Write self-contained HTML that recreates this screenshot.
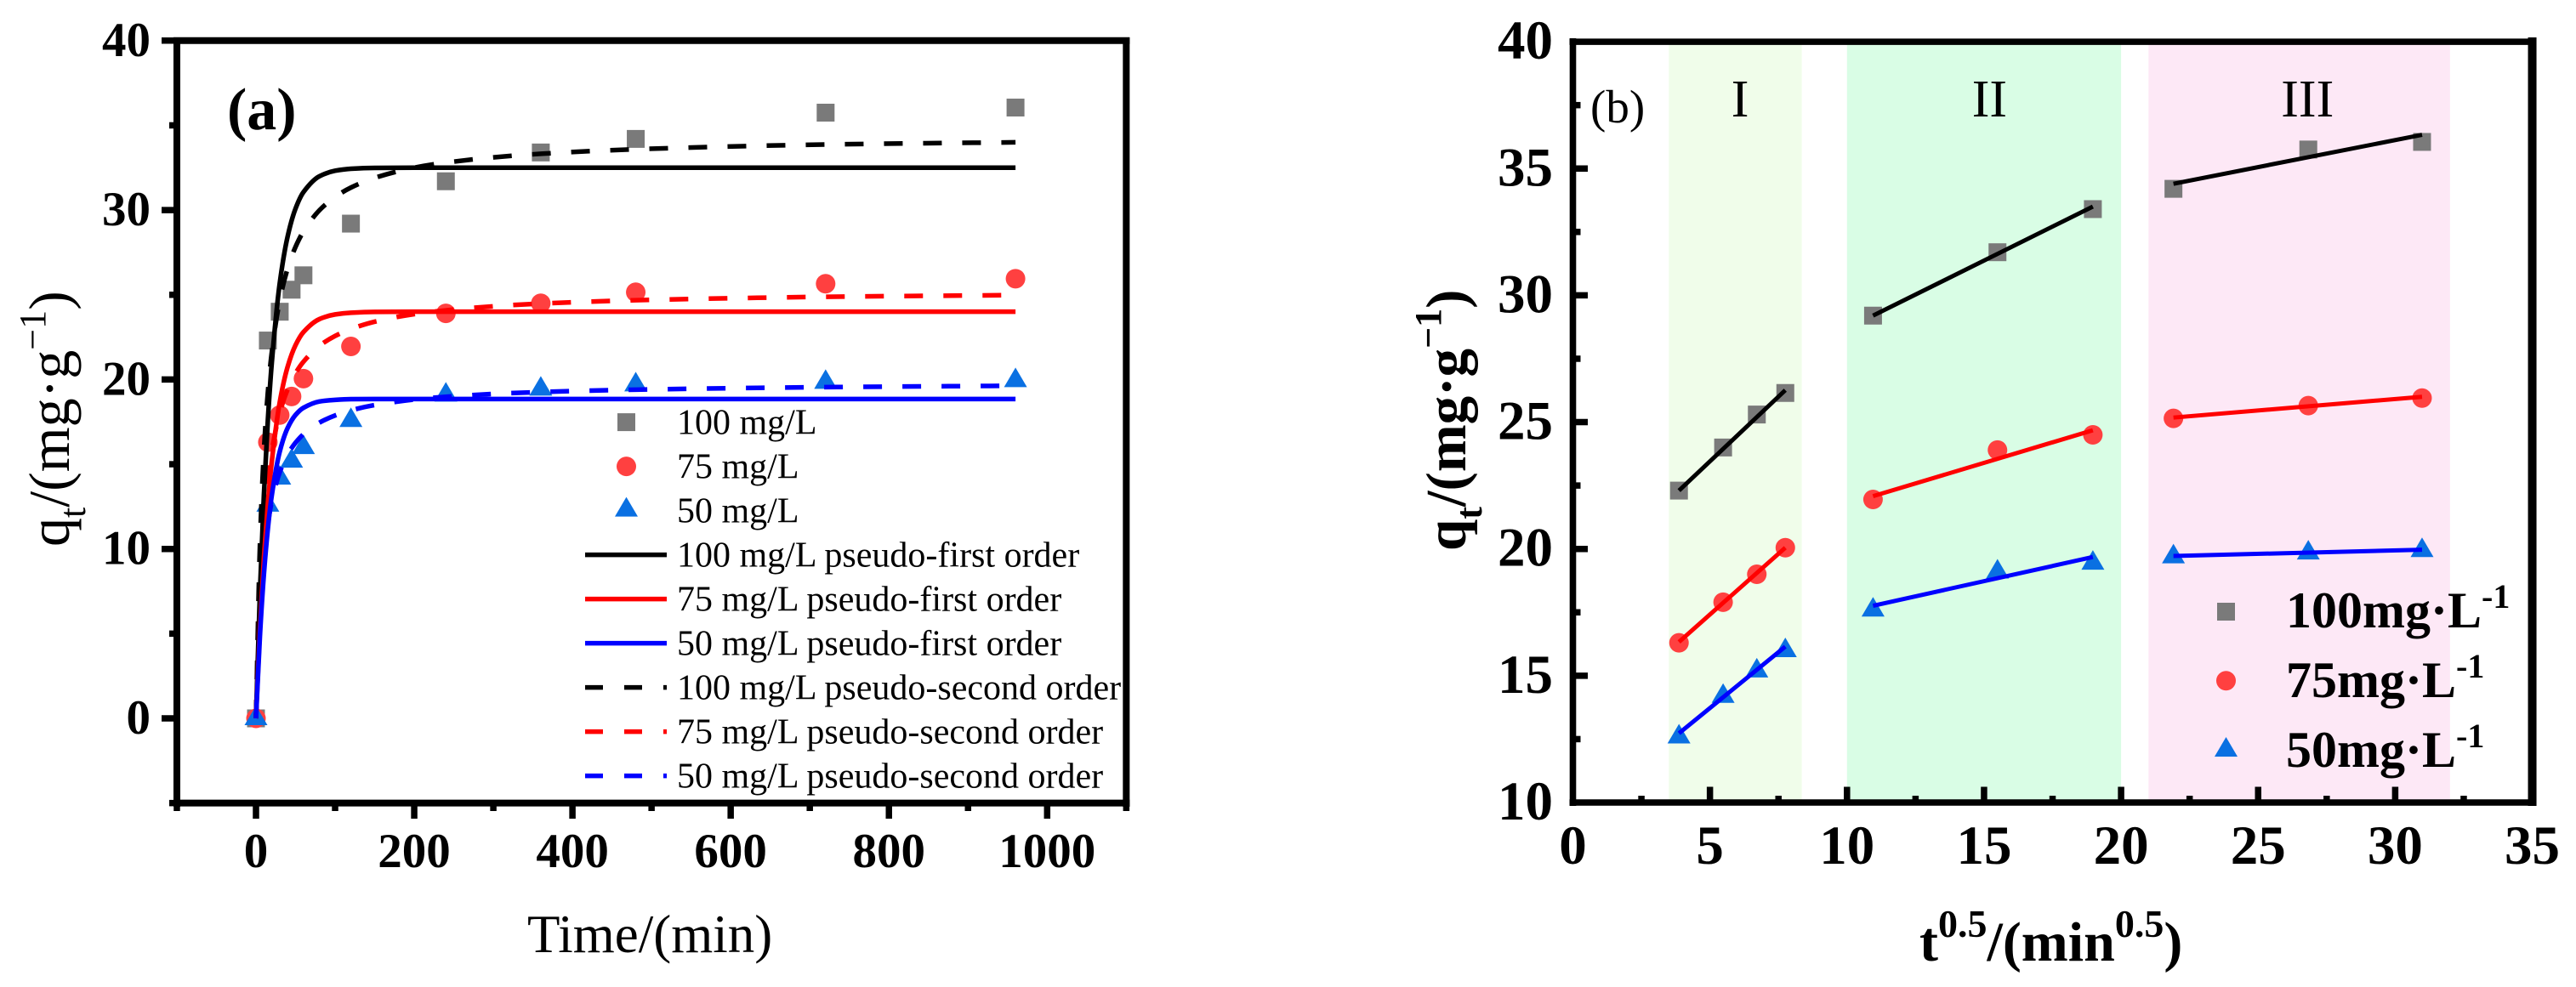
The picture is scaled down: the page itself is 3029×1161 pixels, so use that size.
<!DOCTYPE html>
<html lang="en">
<head>
<meta charset="utf-8">
<title>Adsorption kinetics charts</title>
<style>
html,body{margin:0;padding:0;background:#fff;}
svg{display:block;font-family:"Liberation Serif",serif;}
.bold{font-weight:bold;}
</style>
</head>
<body>
<svg id="chart" xmlns="http://www.w3.org/2000/svg" width="3029" height="1161" viewBox="0 0 3029 1161">
  <rect x="0" y="0" width="3029" height="1161" fill="#ffffff"/>
  <g id="panelA">
    <g id="marksA"></g>
    <g id="axesA"></g>
    <text x="267" y="152" font-size="70" class="bold">(a)</text>
    <text transform="translate(81,643) rotate(-90)" font-size="68">q<tspan font-size="44" dy="19">t</tspan><tspan dy="-19">/(mg·g</tspan><tspan font-size="44" dy="-28">−1</tspan><tspan dy="28">)</tspan></text>
    <text x="620" y="1120" font-size="63">Time/(min)</text>
    <g id="legendA" font-size="42"></g>
  </g>
  <g id="panelB">
    <g id="bandsB"></g>
    <g id="marksB"></g>
    <g id="axesB"></g>
    <text x="1870" y="144" font-size="55">(b)</text>
    <text transform="translate(1723,648) rotate(-90)" font-size="67" class="bold">q<tspan font-size="44" dy="19">t</tspan><tspan dy="-19">/(mg·g</tspan><tspan font-size="44" dy="-29">−1</tspan><tspan dy="29">)</tspan></text>
    <text x="2257" y="1130" font-size="66" class="bold">t<tspan font-size="46" dy="-28">0.5</tspan><tspan dy="28">/(min</tspan><tspan font-size="46" dy="-28">0.5</tspan><tspan dy="28">)</tspan></text>
    <g id="legendB" font-size="60" class="bold">
      <text x="2688" y="738">100mg·L<tspan font-size="40" dy="-23">-1</tspan></text>
      <text x="2688" y="820">75mg·L<tspan font-size="40" dy="-23">-1</tspan></text>
      <text x="2688" y="902">50mg·L<tspan font-size="40" dy="-23">-1</tspan></text>
    </g>
  </g>
</svg>
<script>
/* ---------- Panel (a) data ---------- */
const timeA = [0, 15, 30, 45, 60, 120, 240, 360, 480, 720, 960];
const q100A = [0, 22.3, 24.0, 25.3, 26.15, 29.2, 31.7, 33.4, 34.2, 35.75, 36.05];
const q75A  = [0, 16.3, 17.9, 19.0, 20.05, 21.95, 23.9, 24.5, 25.15, 25.65, 25.95];
const q50A  = [0, 12.6, 14.2, 15.2, 16.0, 17.6, 19.1, 19.45, 19.7, 19.85, 19.95];

const fitTime = [0, 5, 10, 15, 20, 30, 40, 50, 60, 80, 100, 120, 150, 200, 240, 300, 360, 480, 720, 960];
const first100 = [0, 7.44, 13.18, 17.6, 21.0, 25.67, 28.44, 30.09, 31.06, 31.99, 32.32, 32.44, 32.49, 32.5, 32.5, 32.5, 32.5, 32.5, 32.5, 32.5];
const first75  = [0, 5.31, 9.44, 12.66, 15.17, 18.65, 20.75, 22.03, 22.8, 23.56, 23.84, 23.94, 23.99, 24.0, 24.0, 24.0, 24.0, 24.0, 24.0, 24.0];
const first50  = [0, 4.88, 8.5, 11.18, 13.17, 15.74, 17.14, 17.91, 18.33, 18.7, 18.8, 18.84, 18.85, 18.85, 18.85, 18.85, 18.85, 18.85, 18.85, 18.85];
const second100 = [0, 10.21, 15.75, 19.23, 21.61, 24.67, 26.55, 27.83, 28.74, 29.98, 30.77, 31.33, 31.9, 32.5, 32.8, 33.11, 33.32, 33.59, 33.87, 34.0];
const second75  = [0, 7.4, 11.45, 14.0, 15.76, 18.03, 19.42, 20.37, 21.05, 21.98, 22.57, 22.98, 23.41, 23.86, 24.08, 24.32, 24.48, 24.68, 24.88, 24.98];
const second50  = [0, 6.2, 9.45, 11.45, 12.81, 14.52, 15.57, 16.27, 16.77, 17.45, 17.88, 18.18, 18.49, 18.82, 18.98, 19.15, 19.26, 19.4, 19.55, 19.63];

const xMajorA = [0, 200, 400, 600, 800, 1000];
const xMinorA = [-100, 100, 300, 500, 700, 900, 1100];
const yMajorA = [0, 10, 20, 30, 40];
const yMinorA = [-5, 5, 15, 25, 35];
const legendLabelsA = ["100 mg/L", "75 mg/L", "50 mg/L",
  "100 mg/L pseudo-first order", "75 mg/L pseudo-first order", "50 mg/L pseudo-first order",
  "100 mg/L pseudo-second order", "75 mg/L pseudo-second order", "50 mg/L pseudo-second order"];

/* ---------- Panel (b) data ---------- */
const rootTime = [3.87, 5.48, 6.71, 7.75, 10.95, 15.49, 18.97, 21.91, 26.83, 30.98];
const q100B = [22.3, 24.0, 25.3, 26.15, 29.2, 31.7, 33.4, 34.2, 35.75, 36.05];
const q75B  = [16.3, 17.9, 19.0, 20.05, 21.95, 23.9, 24.5, 25.15, 25.65, 25.95];
const q50B  = [12.6, 14.2, 15.2, 16.0, 17.6, 19.1, 19.45, 19.7, 19.85, 19.95];

const stageStart = [3.87, 10.95, 21.91];
const stageEnd   = [7.75, 18.97, 30.98];
const fit100Start = [22.3, 29.2, 34.4];
const fit100End   = [26.26, 33.5, 36.33];
const fit75Start  = [16.33, 22.08, 25.18];
const fit75End    = [20.05, 24.68, 26.0];
const fit50Start  = [12.73, 17.76, 19.72];
const fit50End    = [16.15, 19.68, 19.97];

const bandStart = [3.5, 10, 21];
const bandEnd   = [8.35, 20, 32];
const bandLabels = ["I", "II", "III"];
const bandCenters = [6.1, 15.2, 26.8];

const xMajorB = [0, 5, 10, 15, 20, 25, 30, 35];
const xMinorB = [2.5, 7.5, 12.5, 17.5, 22.5, 27.5, 32.5];
const yMajorB = [10, 15, 20, 25, 30, 35, 40];
const yMinorB = [12.5, 17.5, 22.5, 27.5, 32.5, 37.5];

/* ---------- Axis functions ---------- */
function xA(v){ return 301 + 0.9303 * v; }
function yA(v){ return 845 - 19.93 * v; }
function xB(v){ return 1849.5 + 32.23 * v; }
function yB(v){ return 944 - 29.83 * (v - 10); }

/* ---------- Helpers ---------- */
const NS = "http://www.w3.org/2000/svg";
const GRAY = "#7a7a7a", RED = "#ff4040", BLUE = "#0a70e2";
function make(tag, parent){
  const el = document.createElementNS(NS, tag);
  parent.appendChild(el);
  return el;
}
function lineEl(parent, x1, y1, x2, y2, color, width){
  const el = make("line", parent);
  el.setAttribute("x1", x1); el.setAttribute("y1", y1);
  el.setAttribute("x2", x2); el.setAttribute("y2", y2);
  el.setAttribute("stroke", color); el.setAttribute("stroke-width", width);
  return el;
}
function textEl(parent, x, y, str, size, anchor, bold){
  const el = make("text", parent);
  el.setAttribute("x", x); el.setAttribute("y", y);
  el.setAttribute("font-size", size);
  el.setAttribute("text-anchor", anchor);
  if (bold) el.setAttribute("font-weight", "bold");
  el.textContent = str;
  return el;
}
function squareMark(parent, x, y){
  const el = make("rect", parent);
  el.setAttribute("x", x - 10.5); el.setAttribute("y", y - 10.5);
  el.setAttribute("width", 21); el.setAttribute("height", 21);
  el.setAttribute("fill", GRAY);
  return el;
}
function circleMark(parent, x, y){
  const el = make("circle", parent);
  el.setAttribute("cx", x); el.setAttribute("cy", y);
  el.setAttribute("r", 11.5);
  el.setAttribute("fill", RED);
  return el;
}
function triangleMark(parent, x, y){
  const el = make("polygon", parent);
  el.setAttribute("points", (x - 13.5) + "," + (y + 8) + " " + (x + 13.5) + "," + (y + 8) + " " + x + "," + (y - 15));
  el.setAttribute("fill", BLUE);
  return el;
}
function curvePath(px, py){
  const n = px.length, d = [], m = [];
  for (let i = 0; i < n - 1; i++) d[i] = (py[i + 1] - py[i]) / (px[i + 1] - px[i]);
  m[0] = d[0]; m[n - 1] = d[n - 2];
  for (let i = 1; i < n - 1; i++) m[i] = d[i - 1] * d[i] <= 0 ? 0 : 2 * d[i - 1] * d[i] / (d[i - 1] + d[i]);
  let p = "M" + px[0].toFixed(2) + " " + py[0].toFixed(2);
  for (let i = 0; i < n - 1; i++) {
    const h = (px[i + 1] - px[i]) / 3;
    p += "C" + (px[i] + h).toFixed(2) + " " + (py[i] + m[i] * h).toFixed(2) + " " +
         (px[i + 1] - h).toFixed(2) + " " + (py[i + 1] - m[i + 1] * h).toFixed(2) + " " +
         px[i + 1].toFixed(2) + " " + py[i + 1].toFixed(2);
  }
  return p;
}

/* ---------- Panel (a) marks ---------- */
const marksA = document.getElementById("marksA");
timeA.forEach(function(t, i){
  const el = squareMark(marksA, xA(t), yA(q100A[i]));
  
  
});
timeA.forEach(function(t, i){
  const el = circleMark(marksA, xA(t), yA(q75A[i]));
  
  
});
timeA.forEach(function(t, i){
  const el = triangleMark(marksA, xA(t), yA(q50A[i]));
  
  
});
function fitCurve(values, color, dashed, name){
  const el = make("path", marksA);
  el.setAttribute("d", curvePath(fitTime.map(xA), values.map(yA)));
  el.setAttribute("fill", "none");
  el.setAttribute("stroke", color);
  el.setAttribute("stroke-width", 5.5);
  if (dashed) el.setAttribute("stroke-dasharray", "22 24");
  
  
}
fitCurve(second100, "#000000", true, "curve-100-pseudo-second-order");
fitCurve(second75, "#ff0000", true, "curve-75-pseudo-second-order");
fitCurve(second50, "#0000ff", true, "curve-50-pseudo-second-order");
fitCurve(first100, "#000000", false, "curve-100-pseudo-first-order");
fitCurve(first75, "#ff0000", false, "curve-75-pseudo-first-order");
fitCurve(first50, "#0000ff", false, "curve-50-pseudo-first-order");

/* ---------- Panel (a) axes ---------- */
const axesA = document.getElementById("axesA");
function spineA(x1, y1, x2, y2, name){
  const el = lineEl(axesA, x1, y1, x2, y2, "#000", 8);
  
  
}
spineA(xA(-100), 44, xA(-100), 949, "panel-a-left-spine");
spineA(xA(-100) - 4, yA(-5), xA(1100) + 4, yA(-5), "panel-a-bottom-spine");
spineA(xA(-100) - 4, yA(40), xA(1100) + 4, yA(40), "panel-a-top-spine");
spineA(xA(1100), 44, xA(1100), 949, "panel-a-right-spine");
xMajorA.forEach(function(v){
  const tick = lineEl(axesA, xA(v), 945, xA(v), 963, "#000", 7.5);
  
  
  const lab = textEl(axesA, xA(v), 1020, String(v), 57, "middle", true);
  
  
});
xMinorA.forEach(function(v){
  const tick = lineEl(axesA, xA(v), 945, xA(v), 954, "#000", 7.5);
  
  
});
yMajorA.forEach(function(v){
  const tick = lineEl(axesA, 190, yA(v), 208, yA(v), "#000", 7.5);
  
  
  const lab = textEl(axesA, 177, yA(v) + 18, String(v), 57, "end", true);
  
  
});
yMinorA.forEach(function(v){
  const tick = lineEl(axesA, 199, yA(v), 208, yA(v), "#000", 7.5);
  
  
});

/* ---------- Panel (a) legend ---------- */
const legendA = document.getElementById("legendA");
const legendColorsA = ["#000000", "#ff0000", "#0000ff"];
legendLabelsA.forEach(function(label, i){
  const cy = 496.6 + 52 * i;
  const t = textEl(legendA, 796, cy + 14, label, 42, "start", false);
  
  
  if (i === 0) {
    const m = squareMark(legendA, 736.5, cy);
    
    
  } else if (i === 1) {
    const m = circleMark(legendA, 736.5, cy);
    
    
  } else if (i === 2) {
    const m = triangleMark(legendA, 736.5, cy - 1);
    
    
  } else {
    const l = lineEl(legendA, 688, cy, 784, cy, legendColorsA[(i - 3) % 3], 5.5);
    if (i >= 6) l.setAttribute("stroke-dasharray", "21 25");
    
    
  }
});

/* ---------- Panel (b) bands ---------- */
const bandsB = document.getElementById("bandsB");
const bandColors = ["#f0fdea", "#d9fde5", "#fde8f6"];
bandStart.forEach(function(s, i){
  const r = make("rect", bandsB);
  r.setAttribute("x", xB(s));
  r.setAttribute("y", yB(40));
  r.setAttribute("width", xB(bandEnd[i]) - xB(s));
  r.setAttribute("height", yB(10) - yB(40));
  r.setAttribute("fill", bandColors[i]);
  
  
  const t = textEl(bandsB, xB(bandCenters[i]), 137, bandLabels[i], 62, "middle", false);
  
  
});

/* ---------- Panel (b) marks ---------- */
const marksB = document.getElementById("marksB");
rootTime.forEach(function(x, i){
  const el = squareMark(marksB, xB(x), yB(q100B[i]));
  
  
});
rootTime.forEach(function(x, i){
  const el = circleMark(marksB, xB(x), yB(q75B[i]));
  
  
});
rootTime.forEach(function(x, i){
  const el = triangleMark(marksB, xB(x), yB(q50B[i]));
  
  
});
function fitLines(starts, ends, color, name){
  stageStart.forEach(function(s, i){
    const el = lineEl(marksB, xB(s), yB(starts[i]), xB(stageEnd[i]), yB(ends[i]), color, 5);
    
    
  });
}
fitLines(fit100Start, fit100End, "#000000", "fit-line-100-mg-l");
fitLines(fit75Start, fit75End, "#ff0000", "fit-line-75-mg-l");
fitLines(fit50Start, fit50End, "#0000ff", "fit-line-50-mg-l");

/* ---------- Panel (b) axes ---------- */
const axesB = document.getElementById("axesB");
function spineB(x1, y1, x2, y2, w, name){
  const el = lineEl(axesB, x1, y1, x2, y2, "#000", w);
  
  
}
spineB(xB(0), 45, xB(0), 948, 7.6, "panel-b-left-spine");
spineB(xB(0) - 4, yB(10), xB(35), yB(10), 7.5, "panel-b-bottom-spine");
spineB(xB(0) - 4, yB(40), xB(35), yB(40), 7.5, "panel-b-top-spine");
spineB(xB(35), 44, xB(35), 948, 10, "panel-b-right-spine");
xMajorB.forEach(function(v){
  if (v > 0 && v < 35) {
    const tick = lineEl(axesB, xB(v), 944, xB(v), 925.5, "#000", 7.5);
    
    
  }
  const lab = textEl(axesB, xB(v), 1016, String(v), 65, "middle", true);
  
  
});
xMinorB.forEach(function(v){
  const tick = lineEl(axesB, xB(v), 944, xB(v), 936, "#000", 7.5);
  
  
});
yMajorB.forEach(function(v){
  if (v > 10 && v < 40) {
    const tick = lineEl(axesB, xB(0), yB(v), 1867, yB(v), "#000", 7.5);
    
    
  }
  const lab = textEl(axesB, 1826, yB(v) + 20, String(v), 65, "end", true);
  
  
});
yMinorB.forEach(function(v){
  const tick = lineEl(axesB, xB(0), yB(v), 1858.5, yB(v), "#000", 7.5);
  
  
});

/* ---------- Panel (b) legend markers ---------- */
const legendB = document.getElementById("legendB");
const lgSquare = squareMark(legendB, 2617.5, 719.5);


const lgCircle = circleMark(legendB, 2617.5, 800.7);


const lgTriangle = triangleMark(legendB, 2617.5, 882);


</script>
</body>
</html>
